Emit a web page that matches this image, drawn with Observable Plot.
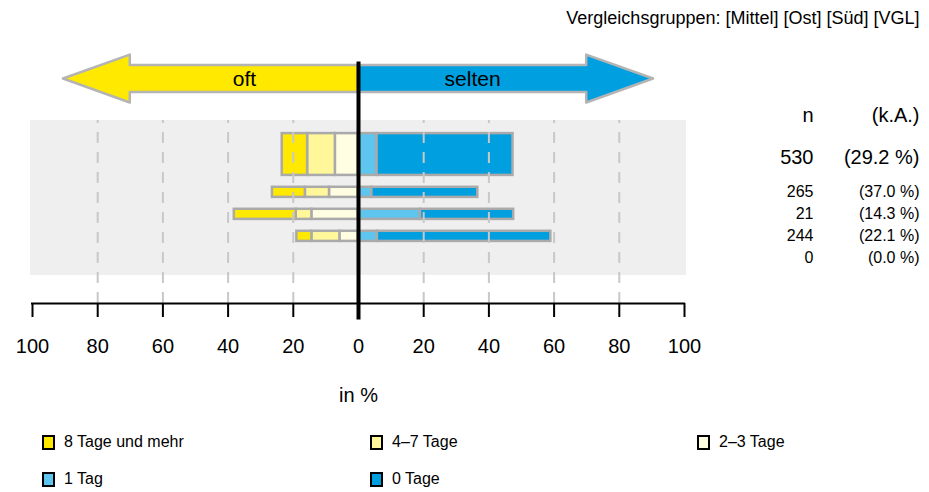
<!DOCTYPE html>
<html><head><meta charset="utf-8">
<script src="https://cdn.jsdelivr.net/npm/d3@7"></script>
<script src="https://cdn.jsdelivr.net/npm/@observablehq/plot@0.6"></script>
<style>
body{margin:0;background:#fff;font-family:"Liberation Sans",Arial,sans-serif;}
#chart{width:929px;height:492px;position:relative;overflow:hidden}
.legend{position:relative;height:67px}
.item{position:absolute;display:flex;align-items:center;font-size:16px;color:#000;height:20px;white-space:nowrap}
.sw{width:9px;height:11px;border:2px solid #000;margin-right:9px;box-sizing:content-box}
</style></head><body><div id="chart"></div>
<script>
// ---- data ----
const groups = ["Gesamt", "Mittel", "Ost", "Süd", "VGL"];
const nValues = [530, 265, 21, 244, 0];
const kaValues = [29.2, 37.0, 14.3, 22.1, 0.0];
const tage8 = [7.8, 10.1, 19.0, 4.6, 0];
const tage47 = [8.5, 7.4, 4.8, 8.6, 0];
const tage23 = [7.1, 8.9, 14.3, 5.7, 0];
const tag1 = [5.7, 4.1, 19.0, 5.8, 0];
const tage0 = [41.7, 32.5, 28.6, 53.2, 0];
const categories = ["8 Tage und mehr", "4–7 Tage", "2–3 Tage", "1 Tag", "0 Tage"];
const colors = ["#ffe900", "#fff79a", "#fffde2", "#5ec5ee", "#009fe0"];
const xTicks = [-100, -80, -60, -40, -20, 0, 20, 40, 60, 80, 100];
const directionLabels = ["oft", "selten"];
const titleText = "Vergleichsgruppen: [Mittel] [Ost] [Süd] [VGL]";
const headerN = "n";
const headerKA = "(k.A.)";
const xLabel = "in %";

// ---- layout (row units: 1 unit = 22px) ----
const W = 929, H = 425, ML = 32, MR = 245, MB = 122;
const yAxis = 149 / 22;
const rowPos = [0, 1.72, 2.72, 3.72, 4.72];
const rowHalf = [0.95, 0.23, 0.23, 0.23, 0.23];
const panelTop = -1.545, panelBottom = 5.5;
const arrowC = -3.43, shaftHalf = 0.61, headHalf = 1.09;
const headBase = 70, headTip = 90.5;

const segs = [];
groups.forEach((g, i) => {
  let acc = 0;
  for (const [c, v] of [[2, tage23[i]], [1, tage47[i]], [0, tage8[i]]]) {
    if (v > 0) segs.push({g, c, row: i, x1: -acc - v, x2: -acc});
    acc += v;
  }
  acc = 0;
  for (const [c, v] of [[3, tag1[i]], [4, tage0[i]]]) {
    if (v > 0) segs.push({g, c, row: i, x1: acc, x2: acc + v});
    acc += v;
  }
});

const arrow = (s) => [
  {x: s * headTip, y1: arrowC, y2: arrowC},
  {x: s * headBase, y1: arrowC - headHalf, y2: arrowC + headHalf},
  {x: s * headBase, y1: arrowC - shaftHalf, y2: arrowC + shaftHalf},
  {x: 0, y1: arrowC - shaftHalf, y2: arrowC + shaftHalf}
];

const rows = groups.map((g, i) => ({g, i, n: nValues[i], ka: kaValues[i]}));
const fmtKA = (v) => "(" + v.toFixed(1) + " %)";

const plot = Plot.plot({
  width: W, height: H,
  marginLeft: ML, marginRight: MR, marginTop: 0, marginBottom: MB,
  style: {fontFamily: "'Liberation Sans', Arial, sans-serif", background: "white", overflow: "visible"},
  x: {domain: [-100, 100]},
  y: {domain: [-7, yAxis], reverse: true, axis: null},
  marks: [
    Plot.text([titleText], {frameAnchor: "top-right", dx: 235, dy: 18, textAnchor: "end", lineAnchor: "middle", fontSize: 18, fill: "#000"}),
    Plot.rect([0], {x1: -100, x2: 100, y1: panelTop, y2: panelBottom, insetLeft: -2, insetRight: -2, fill: "#efefef"}),
    Plot.areaY(arrow(-1), {x: "x", y1: "y1", y2: "y2", fill: colors[0], stroke: "#b4b4b4", strokeWidth: 2.5, curve: "linear"}),
    Plot.areaY(arrow(1), {x: "x", y1: "y1", y2: "y2", fill: colors[4], stroke: "#b4b4b4", strokeWidth: 2.5, curve: "linear"}),
    Plot.text(directionLabels, {x: (d, i) => i === 0 ? -35 : 35, y: arrowC, text: d => d, fontSize: 21, fill: "#000"}),
    Plot.rect(segs, {x1: "x1", x2: "x2", y1: d => rowPos[d.row] - rowHalf[d.row], y2: d => rowPos[d.row] + rowHalf[d.row], fill: d => colors[d.c], stroke: "#aaaaaa", strokeWidth: 2.5}),
    Plot.ruleX(xTicks.filter(t => t !== 0 && Math.abs(t) !== 100), {y1: yAxis, y2: panelTop, stroke: "#c8c8c8", strokeWidth: 2, strokeDasharray: "11,9"}),
    Plot.ruleY([yAxis], {x1: -100, x2: 100, stroke: "#000", strokeWidth: 2, strokeLinecap: "square"}),
    Plot.axisX({ticks: xTicks, tickSize: 14, tickPadding: 21, fontSize: 20, tickFormat: d => Math.abs(d), strokeWidth: 2, color: "#000", label: null}),
    Plot.ruleX([0], {y1: -4.2, y2: yAxis + 0.75, stroke: "#000", strokeWidth: 4}),
    Plot.text([headerN], {frameAnchor: "right", y: -1.77, dx: 129, text: d => d, textAnchor: "end", fontSize: 20, fill: "#000"}),
    Plot.text([headerKA], {frameAnchor: "right", y: -1.77, dx: 235, text: d => d, textAnchor: "end", fontSize: 20, fill: "#000"}),
    Plot.text(rows, {frameAnchor: "right", y: d => rowPos[d.i] + (d.i === 0 ? 0.12 : 0), dx: 129, text: d => String(d.n), textAnchor: "end", fontSize: d => d.i === 0 ? 20 : 16, fill: "#000"}),
    Plot.text(rows, {frameAnchor: "right", y: d => rowPos[d.i] + (d.i === 0 ? 0.12 : 0), dx: 235, text: d => fmtKA(d.ka), textAnchor: "end", fontSize: d => d.i === 0 ? 20 : 16, fill: "#000"}),
    Plot.text([xLabel], {x: 0, frameAnchor: "bottom", dy: 98, text: d => d, fontSize: 20, fill: "#000"})
  ]
});

const chart = document.getElementById("chart");
chart.appendChild(plot);

// legend
const legend = document.createElement("div");
legend.className = "legend";
const lx = [42, 370, 697];
const ly = [7, 44];
categories.forEach((c, i) => {
  const it = document.createElement("div");
  it.className = "item";
  it.style.left = lx[i % 3] + "px";
  it.style.top = ly[Math.floor(i / 3)] + "px";
  const sw = document.createElement("span");
  sw.className = "sw";
  sw.style.background = colors[i];
  it.appendChild(sw);
  it.appendChild(document.createTextNode(c));
  legend.appendChild(it);
});
chart.appendChild(legend);
</script>
</body></html>
